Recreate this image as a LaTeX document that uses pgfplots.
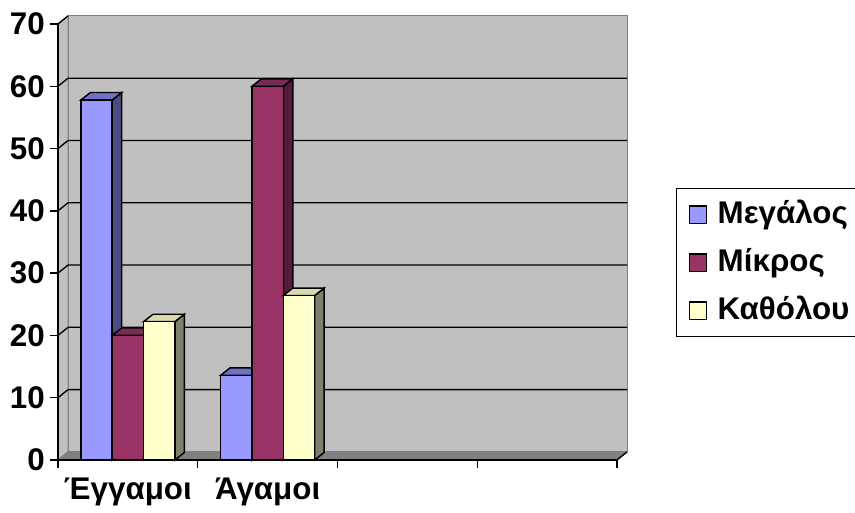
\documentclass[border=0pt]{standalone}
\usepackage{pgfplots}
\pgfplotsset{compat=1.18}
\usepackage{fontspec}
\setmainfont{Liberation Sans}
\definecolor{blueF}{HTML}{9999FF}
\definecolor{blueT}{HTML}{7070C8}
\definecolor{blueS}{HTML}{4C4C84}
\definecolor{marF}{HTML}{993366}
\definecolor{marT}{HTML}{772B55}
\definecolor{marS}{HTML}{561C3A}
\definecolor{yelF}{HTML}{FFFFCC}
\definecolor{yelT}{HTML}{D9D9AD}
\definecolor{yelS}{HTML}{80806A}
\definecolor{wall}{HTML}{C0C0C0}
\definecolor{floorc}{HTML}{808080}
\begin{document}
\begin{tikzpicture}
\begin{axis}[
  name=ax,
  scale only axis,
  width=419.25pt, height=327pt,
  xmin=-0.5, xmax=3.5, ymin=0, ymax=70,
  clip=false,
  axis on top,
  axis x line*=bottom, axis y line*=left,
  axis line style={black, line width=1.2pt},
  tick style={black, line width=1pt},
  tick align=outside,
  major tick length=6pt,
  ytick={0,10,...,70},
  xtick={-0.5,0.5,1.5,2.5,3.5},
  xticklabels={,,,,},
  extra x ticks={0,1},
  extra x tick labels={Έγγαμοι,Άγαμοι},
  extra x tick style={major tick length=0pt, xticklabel style={yshift=-10pt}},
  tick label style={font=\fontsize{23.5}{28}\selectfont\bfseries},
  /pgf/number format/assume math mode=true,
  yticklabel style={inner sep=0pt, xshift=-3.75pt},
  legend style={at={(1.1055,0.6239)}, anchor=north west, draw=black, line width=1pt,
    font=\fontsize{23.5}{28}\selectfont\bfseries,
    inner xsep=9pt, inner ysep=6pt, row sep=9pt,
    nodes={inner sep=2pt, text height=18pt, text depth=5pt},
    /tikz/every odd column/.append style={column sep=6pt}},
  legend cell align=left,
  sq/.style={legend image code/.code={\draw[##1,draw=black,line width=0.8pt] (0pt,-6.5pt) rectangle (13pt,6.5pt);}},
]
% walls and floor
\addplot[fill=wall, draw=floorc, line width=0.8pt, forget plot] coordinates {(-0.428,1.3) (3.572,1.3) (3.572,71.3) (-0.428,71.3)} -- cycle;
\addplot[fill=wall, draw=floorc, line width=0.8pt, forget plot] coordinates {(-0.5,0) (-0.428,1.3) (-0.428,71.3) (-0.5,70)} -- cycle;
\addplot[fill=floorc, draw=floorc, line width=0.8pt, forget plot] coordinates {(-0.5,0) (-0.428,1.3) (3.572,1.3) (3.5,0)} -- cycle;
\addplot[black, line width=1pt, forget plot] coordinates {(3.5,0) (3.572,1.3)};
% gridlines
\addplot[black, line width=1pt, forget plot] coordinates {(-0.5,10) (-0.428,11.3) (3.572,11.3)};
\addplot[black, line width=1pt, forget plot] coordinates {(-0.5,20) (-0.428,21.3) (3.572,21.3)};
\addplot[black, line width=1pt, forget plot] coordinates {(-0.5,30) (-0.428,31.3) (3.572,31.3)};
\addplot[black, line width=1pt, forget plot] coordinates {(-0.5,40) (-0.428,41.3) (3.572,41.3)};
\addplot[black, line width=1pt, forget plot] coordinates {(-0.5,50) (-0.428,51.3) (3.572,51.3)};
\addplot[black, line width=1pt, forget plot] coordinates {(-0.5,60) (-0.428,61.3) (3.572,61.3)};
\addplot[black, line width=1pt, forget plot] coordinates {(-0.5,70) (-0.428,71.3)};
% Μεγάλος
\addplot[fill=blueS, draw=black, line width=1.1pt, forget plot] coordinates {(-0.112,0) (-0.044,1.2) (-0.044,59.0) (-0.112,57.8)} -- cycle;
\addplot[fill=blueT, draw=black, line width=1.1pt, forget plot] coordinates {(-0.336,57.8) (-0.268,59.0) (-0.044,59.0) (-0.112,57.8)} -- cycle;
\addplot[fill=blueS, draw=black, line width=1.1pt, forget plot] coordinates {(0.888,0) (0.956,1.2) (0.956,14.8) (0.888,13.6)} -- cycle;
\addplot[fill=blueT, draw=black, line width=1.1pt, forget plot] coordinates {(0.664,13.6) (0.732,14.8) (0.956,14.8) (0.888,13.6)} -- cycle;
\addplot[ybar, bar width=0.224, bar shift=-0.224, fill=blueF, draw=black, line width=1.1pt, sq] coordinates {(0,57.8) (1,13.6)};
\addlegendentry{Μεγάλος}
% Μίκρος
\addplot[fill=marS, draw=black, line width=1.1pt, forget plot] coordinates {(0.112,0) (0.18,1.2) (0.18,21.2) (0.112,20)} -- cycle;
\addplot[fill=marT, draw=black, line width=1.1pt, forget plot] coordinates {(-0.112,20) (-0.044,21.2) (0.18,21.2) (0.112,20)} -- cycle;
\addplot[fill=marS, draw=black, line width=1.1pt, forget plot] coordinates {(1.112,0) (1.18,1.2) (1.18,61.2) (1.112,60)} -- cycle;
\addplot[fill=marT, draw=black, line width=1.1pt, forget plot] coordinates {(0.888,60) (0.956,61.2) (1.18,61.2) (1.112,60)} -- cycle;
\addplot[ybar, bar width=0.224, bar shift=0, fill=marF, draw=black, line width=1.1pt, sq] coordinates {(0,20) (1,60)};
\addlegendentry{Μίκρος}
% Καθόλου
\addplot[fill=yelS, draw=black, line width=1.1pt, forget plot] coordinates {(0.336,0) (0.404,1.2) (0.404,23.4) (0.336,22.2)} -- cycle;
\addplot[fill=yelT, draw=black, line width=1.1pt, forget plot] coordinates {(0.112,22.2) (0.18,23.4) (0.404,23.4) (0.336,22.2)} -- cycle;
\addplot[fill=yelS, draw=black, line width=1.1pt, forget plot] coordinates {(1.336,0) (1.404,1.2) (1.404,27.6) (1.336,26.4)} -- cycle;
\addplot[fill=yelT, draw=black, line width=1.1pt, forget plot] coordinates {(1.112,26.4) (1.18,27.6) (1.404,27.6) (1.336,26.4)} -- cycle;
\addplot[ybar, bar width=0.224, bar shift=0.224, fill=yelF, draw=black, line width=1.1pt, sq] coordinates {(0,22.2) (1,26.4)};
\addlegendentry{Καθόλου}
\end{axis}
\pgfresetboundingbox
\path[use as bounding box] (ax.south west) ++(-43.5pt,-39.75pt) rectangle ++(641.25pt,384.75pt);
\end{tikzpicture}
\end{document}
